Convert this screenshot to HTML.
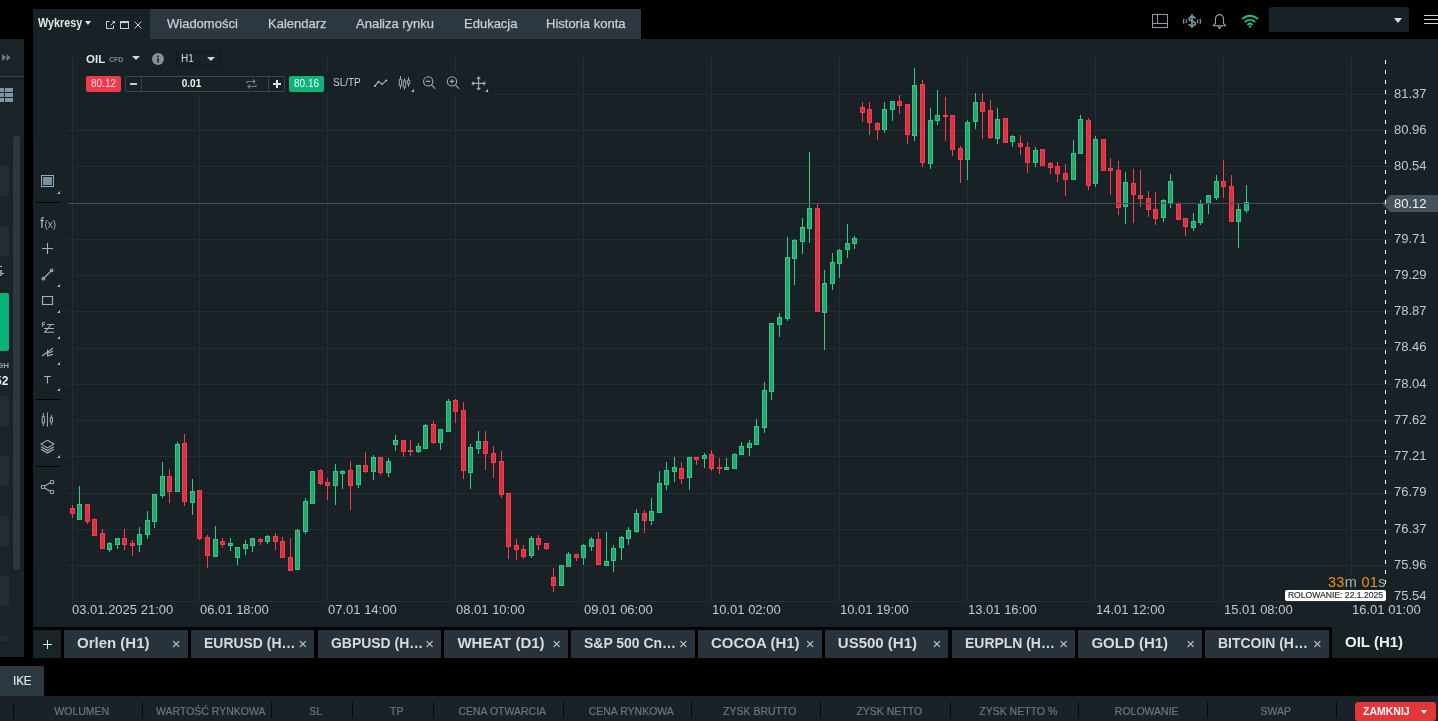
<!DOCTYPE html>
<html lang="pl">
<head>
<meta charset="utf-8">
<title>xStation - Wykresy</title>
<style>
*{box-sizing:border-box;margin:0;padding:0}
html,body{width:1438px;height:721px;overflow:hidden;background:#000}
body{position:relative;font-family:"Liberation Sans",sans-serif;color:#d0d4d8}
.abs{position:absolute}
/* left side panel */
#lp{left:0;top:39px;width:24px;height:618px;background:#1a2328}
.lpbox{position:absolute;left:0;width:9px;background:#242b32}
/* chart window */
#cw{left:33px;top:39px;width:1405px;height:588px;background:#182126}
#hdr{left:33px;top:9px;width:117px;height:30px;background:#182126}
#tabs{left:150px;top:9px;width:491px;height:30px;background:#2c3740}
.tt{position:absolute;top:16px;font-size:13px;color:#c9ced2;-webkit-text-stroke:0.25px #c9ced2;white-space:nowrap}
#topblack{left:640px;top:0;width:798px;height:39px;background:#000}
/* price + date labels */
.pl{position:absolute;left:1394px;font-size:13px;color:#c3c8cc;line-height:16px;white-space:nowrap}
.dl{position:absolute;top:602px;font-size:13px;color:#c3c8cc;line-height:16px;white-space:nowrap}
/* bottom tabs */
.btab{position:absolute;top:630px;width:123.5px;height:28px;background:#28323a}
.bt{position:absolute;left:13px;top:3.5px;font-size:15px;font-weight:bold;color:#d6dadd;white-space:nowrap;line-height:17px}
.bt.tr{transform:scaleX(0.93);transform-origin:0 0}
.bx{position:absolute;right:7px;top:6px;font-size:15px;color:#c0c6ca;line-height:15px}
/* bottom bar */
#bar{left:0;top:696px;width:1438px;height:25px;background:#1a2227}
.bc{position:absolute;top:10px;padding-left:8.5px;font-size:10.5px;color:#6a7680;-webkit-text-stroke:0.2px #6a7680;text-align:center;line-height:11px;white-space:nowrap}
.bd{position:absolute;top:6px;width:1px;height:16px;background:#050708}
.ico{position:absolute}
.tri{position:absolute;width:0;height:0;border-left:3px solid transparent;border-bottom:3px solid #aab4ba}
</style>
</head>
<body>
<!-- left side panel -->
<div id="lp" class="abs">
  <svg class="ico" style="left:2px;top:15px" width="9" height="7" viewBox="0 0 9 7"><path d="M0 0 L4 3.5 L0 7Z M4.5 0 L8.5 3.5 L4.5 7Z" fill="#6f7d86"/></svg>
  <div class="abs" style="left:0;top:37px;width:24px;height:1px;background:#36424a"></div>
  <svg class="ico" style="left:0;top:49px" width="14" height="15" viewBox="0 0 14 15"><g fill="#7e96a4"><rect x="0" y="0" width="4" height="4"/><rect x="5" y="0" width="8" height="4"/><rect x="0" y="5" width="4" height="4"/><rect x="5" y="5" width="8" height="4"/><rect x="0" y="10" width="4" height="4"/><rect x="5" y="10" width="8" height="4"/></g></svg>
  <div class="abs" style="left:13px;top:97px;width:7px;height:434px;background:#2d3840;border-radius:4px"></div>
  <div class="lpbox" style="top:127px;height:30px"></div>
  <div class="lpbox" style="top:187px;height:30px"></div>
  <div class="abs" style="left:0;top:227px;width:2px;height:1px;background:#b8bec2"></div>
  <div class="abs" style="left:0;top:234px;width:4px;height:1.2px;background:#b8bec2"></div><div class="abs" style="left:0;top:231px;width:1.5px;height:6px;background:#8a9095"></div>
  <div class="abs" style="left:0;top:254px;width:9px;height:58px;background:#0bb27a;border-top-right-radius:2px;border-bottom-right-radius:2px"></div>
  <div class="abs" style="left:-3px;top:322px;font-size:8px;font-weight:bold;color:#98a2a8">GH</div>
  <div class="abs" style="left:-5px;top:335px;font-size:12px;font-weight:bold;color:#e8ebed">52</div>
  <div class="lpbox" style="top:357px;height:30px"></div>
  <div class="lpbox" style="top:417px;height:30px"></div>
  <div class="lpbox" style="top:477px;height:30px"></div>
  <div class="lpbox" style="top:537px;height:30px"></div>
  <div class="lpbox" style="top:597px;height:5px"></div>
</div>

<!-- chart window -->
<div id="cw" class="abs"></div>
<div id="hdr" class="abs"></div>
<div id="tabs" class="abs"></div>
<div class="abs" style="left:38px;top:15px;font-size:13px;font-weight:bold;color:#e4e7e9;transform:scaleX(0.83);transform-origin:0 0">Wykresy</div>
<div class="abs" style="left:85px;top:21px;width:0;height:0;border-left:3.5px solid transparent;border-right:3.5px solid transparent;border-top:4px solid #e0e3e5"></div>
<svg class="ico" style="left:105px;top:20px" width="40" height="11" viewBox="105 20 40 11">
  <g fill="none" stroke="#c9ced1" stroke-width="1">
    <path d="M109.5 21.5 h-3 v7 h7 v-3"/><path d="M110.5 25.5 l4-4 M112.5 21.5 h2 v2"/>
    <rect x="120.5" y="21.5" width="8" height="7"/>
    <path d="M134.5 21.5 l7 7 M141.5 21.5 l-7 7"/>
  </g>
  <rect x="120.5" y="21.5" width="8" height="1.6" fill="#c9ced1"/>
</svg>
<div class="tt" style="left:167px">Wiadomości</div>
<div class="tt" style="left:268px">Kalendarz</div>
<div class="tt" style="left:356px">Analiza rynku</div>
<div class="tt" style="left:464px">Edukacja</div>
<div class="tt" style="left:546px">Historia konta</div>

<!-- top-right icons -->
<svg class="ico" style="left:1150px;top:12px" width="112" height="20" viewBox="1150 12 112 20">
  <g fill="none" stroke="#8d9ba3" stroke-width="1">
    <rect x="1152.5" y="14.5" width="15" height="13"/>
    <line x1="1157.5" y1="14.5" x2="1157.5" y2="23.5"/>
    <line x1="1152.5" y1="23.5" x2="1167.5" y2="23.5"/>
  </g>
  <g fill="none" stroke="#7d94a0" stroke-width="1.7">
    <path d="M1192 14 V28"/>
    <path d="M1195.3 18.4 C1194.6 16.4 1189.1 16 1189.1 18.9 C1189.1 21.4 1195.4 20.6 1195.4 23.4 C1195.4 26.4 1189.4 26.1 1188.7 24.1"/>
  </g>
  <g fill="none" stroke="#7d94a0" stroke-width="1.4">
    <path d="M1184 18.8 q-1.3 2.5 0 5"/><path d="M1186.7 19.5 q-0.8 1.75 0 3.5"/>
    <path d="M1197.3 19.5 q0.8 1.75 0 3.5"/><path d="M1200 18.8 q1.3 2.5 0 5"/>
  </g>
  <g fill="none" stroke="#9aa6ad" stroke-width="1.1" stroke-linejoin="round">
    <path d="M1215.5 23.3 V19 A4 4.4 0 0 1 1223.5 19 V23.3 L1225.8 25.8 H1213.2 Z"/>
    <path d="M1217.6 25.8 L1219.5 28.6 L1221.4 25.8"/>
  </g>
  <g fill="none" stroke="#1fc585" stroke-width="1.9" stroke-linecap="round">
    <path d="M1242.6 18.6 a11 11 0 0 1 14.8 0"/>
    <path d="M1245.4 21.6 a7 7 0 0 1 9.2 0"/>
    <path d="M1248 24.4 a3.2 3.2 0 0 1 4 0"/>
  </g>
  <circle cx="1250" cy="26.6" r="1.2" fill="#1fc585"/>
</svg>
<div class="abs" style="left:1269px;top:7px;width:140px;height:25px;background:#182127;border-radius:3px 3px 0 0"></div>
<div class="abs" style="left:1394px;top:18px;width:0;height:0;border-left:4px solid transparent;border-right:4px solid transparent;border-top:5px solid #d8dcdf"></div>
<div class="abs" style="left:1424px;top:15px;width:14px;height:1.3px;background:#d0d4d7"></div>
<div class="abs" style="left:1424px;top:18.8px;width:14px;height:1.3px;background:#d0d4d7"></div>
<div class="abs" style="left:1424px;top:22.8px;width:14px;height:1.3px;background:#d0d4d7"></div>


<!-- chart drawing -->
<svg class="abs" style="left:0;top:0" width="1438" height="721" viewBox="0 0 1438 721">
<rect x="72" y="58" width="1" height="546" fill="#252e35"/>
<rect x="199" y="58" width="1" height="546" fill="#252e35"/>
<rect x="327" y="58" width="1" height="546" fill="#252e35"/>
<rect x="455" y="58" width="1" height="546" fill="#252e35"/>
<rect x="583" y="58" width="1" height="546" fill="#252e35"/>
<rect x="711" y="58" width="1" height="546" fill="#252e35"/>
<rect x="839" y="58" width="1" height="546" fill="#252e35"/>
<rect x="967" y="58" width="1" height="546" fill="#252e35"/>
<rect x="1095" y="58" width="1" height="546" fill="#252e35"/>
<rect x="1223" y="58" width="1" height="546" fill="#252e35"/>
<rect x="1351" y="58" width="1" height="546" fill="#252e35"/>
<rect x="68" y="94" width="1324" height="1" fill="#252e35"/>
<rect x="68" y="130" width="1324" height="1" fill="#252e35"/>
<rect x="68" y="166" width="1324" height="1" fill="#252e35"/>
<rect x="68" y="203" width="1324" height="1" fill="#252e35"/>
<rect x="68" y="239" width="1324" height="1" fill="#252e35"/>
<rect x="68" y="275" width="1324" height="1" fill="#252e35"/>
<rect x="68" y="311" width="1324" height="1" fill="#252e35"/>
<rect x="68" y="348" width="1324" height="1" fill="#252e35"/>
<rect x="68" y="384" width="1324" height="1" fill="#252e35"/>
<rect x="68" y="420" width="1324" height="1" fill="#252e35"/>
<rect x="68" y="456" width="1324" height="1" fill="#252e35"/>
<rect x="68" y="493" width="1324" height="1" fill="#252e35"/>
<rect x="68" y="529" width="1324" height="1" fill="#252e35"/>
<rect x="68" y="565" width="1324" height="1" fill="#252e35"/>
<rect x="68" y="601" width="1324" height="1" fill="#252e35"/>
<rect x="72" y="505" width="1" height="13" fill="#fb3a4c"/>
<rect x="70" y="508" width="5" height="6" fill="#fb3a4c"/>
<rect x="71" y="509" width="3" height="4" fill="#d53344"/>
<rect x="79" y="486" width="1" height="34" fill="#2cc987"/>
<rect x="77" y="504" width="5" height="16" fill="#2cc987"/>
<rect x="78" y="505" width="3" height="14" fill="#26a56f"/>
<rect x="87" y="504" width="1" height="20" fill="#fb3a4c"/>
<rect x="85" y="504" width="5" height="18" fill="#fb3a4c"/>
<rect x="86" y="505" width="3" height="16" fill="#d53344"/>
<rect x="94" y="518" width="1" height="18" fill="#fb3a4c"/>
<rect x="92" y="519" width="5" height="17" fill="#fb3a4c"/>
<rect x="93" y="520" width="3" height="15" fill="#d53344"/>
<rect x="102" y="529" width="1" height="20" fill="#fb3a4c"/>
<rect x="100" y="533" width="5" height="16" fill="#fb3a4c"/>
<rect x="101" y="534" width="3" height="14" fill="#d53344"/>
<rect x="109" y="542" width="1" height="10" fill="#2cc987"/>
<rect x="107" y="543" width="5" height="7" fill="#2cc987"/>
<rect x="108" y="544" width="3" height="5" fill="#26a56f"/>
<rect x="117" y="538" width="1" height="11" fill="#2cc987"/>
<rect x="115" y="538" width="5" height="7" fill="#2cc987"/>
<rect x="116" y="539" width="3" height="5" fill="#26a56f"/>
<rect x="124" y="529" width="1" height="21" fill="#fb3a4c"/>
<rect x="122" y="538" width="5" height="7" fill="#fb3a4c"/>
<rect x="123" y="539" width="3" height="5" fill="#d53344"/>
<rect x="132" y="540" width="1" height="16" fill="#fb3a4c"/>
<rect x="130" y="543" width="5" height="3" fill="#fb3a4c"/>
<rect x="131" y="544" width="3" height="1" fill="#d53344"/>
<rect x="139" y="527" width="1" height="25" fill="#2cc987"/>
<rect x="137" y="534" width="5" height="11" fill="#2cc987"/>
<rect x="138" y="535" width="3" height="9" fill="#26a56f"/>
<rect x="147" y="511" width="1" height="28" fill="#2cc987"/>
<rect x="145" y="520" width="5" height="15" fill="#2cc987"/>
<rect x="146" y="521" width="3" height="13" fill="#26a56f"/>
<rect x="154" y="494" width="1" height="34" fill="#2cc987"/>
<rect x="152" y="494" width="5" height="28" fill="#2cc987"/>
<rect x="153" y="495" width="3" height="26" fill="#26a56f"/>
<rect x="162" y="462" width="1" height="36" fill="#2cc987"/>
<rect x="160" y="476" width="5" height="20" fill="#2cc987"/>
<rect x="161" y="477" width="3" height="18" fill="#26a56f"/>
<rect x="169" y="469" width="1" height="34" fill="#fb3a4c"/>
<rect x="167" y="476" width="5" height="16" fill="#fb3a4c"/>
<rect x="168" y="477" width="3" height="14" fill="#d53344"/>
<rect x="177" y="442" width="1" height="50" fill="#2cc987"/>
<rect x="175" y="444" width="5" height="48" fill="#2cc987"/>
<rect x="176" y="445" width="3" height="46" fill="#26a56f"/>
<rect x="184" y="434" width="1" height="72" fill="#fb3a4c"/>
<rect x="182" y="443" width="5" height="59" fill="#fb3a4c"/>
<rect x="183" y="444" width="3" height="57" fill="#d53344"/>
<rect x="192" y="479" width="1" height="36" fill="#2cc987"/>
<rect x="190" y="491" width="5" height="12" fill="#2cc987"/>
<rect x="191" y="492" width="3" height="10" fill="#26a56f"/>
<rect x="199" y="490" width="1" height="50" fill="#fb3a4c"/>
<rect x="197" y="490" width="5" height="49" fill="#fb3a4c"/>
<rect x="198" y="491" width="3" height="47" fill="#d53344"/>
<rect x="207" y="535" width="1" height="33" fill="#fb3a4c"/>
<rect x="205" y="537" width="5" height="19" fill="#fb3a4c"/>
<rect x="206" y="538" width="3" height="17" fill="#d53344"/>
<rect x="215" y="526" width="1" height="31" fill="#2cc987"/>
<rect x="213" y="539" width="5" height="18" fill="#2cc987"/>
<rect x="214" y="540" width="3" height="16" fill="#26a56f"/>
<rect x="222" y="538" width="1" height="10" fill="#fb3a4c"/>
<rect x="220" y="541" width="5" height="4" fill="#fb3a4c"/>
<rect x="221" y="542" width="3" height="2" fill="#d53344"/>
<rect x="230" y="538" width="1" height="13" fill="#2cc987"/>
<rect x="228" y="543" width="5" height="3" fill="#2cc987"/>
<rect x="229" y="544" width="3" height="1" fill="#26a56f"/>
<rect x="237" y="547" width="1" height="18" fill="#2cc987"/>
<rect x="235" y="547" width="5" height="11" fill="#2cc987"/>
<rect x="236" y="548" width="3" height="9" fill="#26a56f"/>
<rect x="245" y="540" width="1" height="15" fill="#2cc987"/>
<rect x="243" y="544" width="5" height="5" fill="#2cc987"/>
<rect x="244" y="545" width="3" height="3" fill="#26a56f"/>
<rect x="252" y="538" width="1" height="14" fill="#2cc987"/>
<rect x="250" y="538" width="5" height="8" fill="#2cc987"/>
<rect x="251" y="539" width="3" height="6" fill="#26a56f"/>
<rect x="260" y="538" width="1" height="7" fill="#fb3a4c"/>
<rect x="258" y="539" width="5" height="3" fill="#fb3a4c"/>
<rect x="259" y="540" width="3" height="1" fill="#d53344"/>
<rect x="267" y="535" width="1" height="9" fill="#2cc987"/>
<rect x="265" y="536" width="5" height="6" fill="#2cc987"/>
<rect x="266" y="537" width="3" height="4" fill="#26a56f"/>
<rect x="275" y="533" width="1" height="17" fill="#fb3a4c"/>
<rect x="273" y="536" width="5" height="6" fill="#fb3a4c"/>
<rect x="274" y="537" width="3" height="4" fill="#d53344"/>
<rect x="282" y="537" width="1" height="21" fill="#fb3a4c"/>
<rect x="280" y="541" width="5" height="17" fill="#fb3a4c"/>
<rect x="281" y="542" width="3" height="15" fill="#d53344"/>
<rect x="290" y="538" width="1" height="33" fill="#fb3a4c"/>
<rect x="288" y="557" width="5" height="14" fill="#fb3a4c"/>
<rect x="289" y="558" width="3" height="12" fill="#d53344"/>
<rect x="297" y="529" width="1" height="41" fill="#2cc987"/>
<rect x="295" y="530" width="5" height="40" fill="#2cc987"/>
<rect x="296" y="531" width="3" height="38" fill="#26a56f"/>
<rect x="305" y="498" width="1" height="36" fill="#2cc987"/>
<rect x="303" y="501" width="5" height="31" fill="#2cc987"/>
<rect x="304" y="502" width="3" height="29" fill="#26a56f"/>
<rect x="312" y="471" width="1" height="33" fill="#2cc987"/>
<rect x="310" y="471" width="5" height="33" fill="#2cc987"/>
<rect x="311" y="472" width="3" height="31" fill="#26a56f"/>
<rect x="320" y="469" width="1" height="16" fill="#fb3a4c"/>
<rect x="318" y="470" width="5" height="14" fill="#fb3a4c"/>
<rect x="319" y="471" width="3" height="12" fill="#d53344"/>
<rect x="327" y="478" width="1" height="22" fill="#fb3a4c"/>
<rect x="325" y="482" width="5" height="4" fill="#fb3a4c"/>
<rect x="326" y="483" width="3" height="2" fill="#d53344"/>
<rect x="335" y="464" width="1" height="41" fill="#2cc987"/>
<rect x="333" y="471" width="5" height="15" fill="#2cc987"/>
<rect x="334" y="472" width="3" height="13" fill="#26a56f"/>
<rect x="342" y="470" width="1" height="19" fill="#2cc987"/>
<rect x="340" y="471" width="5" height="3" fill="#2cc987"/>
<rect x="341" y="472" width="3" height="1" fill="#26a56f"/>
<rect x="350" y="461" width="1" height="49" fill="#fb3a4c"/>
<rect x="348" y="470" width="5" height="16" fill="#fb3a4c"/>
<rect x="349" y="471" width="3" height="14" fill="#d53344"/>
<rect x="358" y="465" width="1" height="23" fill="#2cc987"/>
<rect x="356" y="465" width="5" height="20" fill="#2cc987"/>
<rect x="357" y="466" width="3" height="18" fill="#26a56f"/>
<rect x="365" y="452" width="1" height="21" fill="#fb3a4c"/>
<rect x="363" y="465" width="5" height="7" fill="#fb3a4c"/>
<rect x="364" y="466" width="3" height="5" fill="#d53344"/>
<rect x="373" y="455" width="1" height="25" fill="#2cc987"/>
<rect x="371" y="457" width="5" height="15" fill="#2cc987"/>
<rect x="372" y="458" width="3" height="13" fill="#26a56f"/>
<rect x="380" y="457" width="1" height="18" fill="#fb3a4c"/>
<rect x="378" y="457" width="5" height="16" fill="#fb3a4c"/>
<rect x="379" y="458" width="3" height="14" fill="#d53344"/>
<rect x="388" y="458" width="1" height="19" fill="#2cc987"/>
<rect x="386" y="461" width="5" height="12" fill="#2cc987"/>
<rect x="387" y="462" width="3" height="10" fill="#26a56f"/>
<rect x="395" y="435" width="1" height="16" fill="#2cc987"/>
<rect x="393" y="440" width="5" height="5" fill="#2cc987"/>
<rect x="394" y="441" width="3" height="3" fill="#26a56f"/>
<rect x="403" y="440" width="1" height="17" fill="#fb3a4c"/>
<rect x="401" y="440" width="5" height="12" fill="#fb3a4c"/>
<rect x="402" y="441" width="3" height="10" fill="#d53344"/>
<rect x="410" y="440" width="1" height="16" fill="#fb3a4c"/>
<rect x="408" y="450" width="5" height="2" fill="#fb3a4c"/>
<rect x="418" y="443" width="1" height="10" fill="#2cc987"/>
<rect x="416" y="446" width="5" height="6" fill="#2cc987"/>
<rect x="417" y="447" width="3" height="4" fill="#26a56f"/>
<rect x="425" y="424" width="1" height="25" fill="#2cc987"/>
<rect x="423" y="425" width="5" height="24" fill="#2cc987"/>
<rect x="424" y="426" width="3" height="22" fill="#26a56f"/>
<rect x="433" y="421" width="1" height="23" fill="#fb3a4c"/>
<rect x="431" y="424" width="5" height="19" fill="#fb3a4c"/>
<rect x="432" y="425" width="3" height="17" fill="#d53344"/>
<rect x="440" y="429" width="1" height="21" fill="#2cc987"/>
<rect x="438" y="429" width="5" height="14" fill="#2cc987"/>
<rect x="439" y="430" width="3" height="12" fill="#26a56f"/>
<rect x="448" y="399" width="1" height="33" fill="#2cc987"/>
<rect x="446" y="401" width="5" height="31" fill="#2cc987"/>
<rect x="447" y="402" width="3" height="29" fill="#26a56f"/>
<rect x="455" y="399" width="1" height="24" fill="#fb3a4c"/>
<rect x="453" y="400" width="5" height="12" fill="#fb3a4c"/>
<rect x="454" y="401" width="3" height="10" fill="#d53344"/>
<rect x="463" y="402" width="1" height="77" fill="#fb3a4c"/>
<rect x="461" y="410" width="5" height="61" fill="#fb3a4c"/>
<rect x="462" y="411" width="3" height="59" fill="#d53344"/>
<rect x="470" y="444" width="1" height="45" fill="#2cc987"/>
<rect x="468" y="447" width="5" height="26" fill="#2cc987"/>
<rect x="469" y="448" width="3" height="24" fill="#26a56f"/>
<rect x="478" y="431" width="1" height="23" fill="#2cc987"/>
<rect x="476" y="441" width="5" height="8" fill="#2cc987"/>
<rect x="477" y="442" width="3" height="6" fill="#26a56f"/>
<rect x="485" y="431" width="1" height="39" fill="#fb3a4c"/>
<rect x="483" y="441" width="5" height="13" fill="#fb3a4c"/>
<rect x="484" y="442" width="3" height="11" fill="#d53344"/>
<rect x="493" y="446" width="1" height="32" fill="#fb3a4c"/>
<rect x="491" y="453" width="5" height="10" fill="#fb3a4c"/>
<rect x="492" y="454" width="3" height="8" fill="#d53344"/>
<rect x="501" y="451" width="1" height="47" fill="#fb3a4c"/>
<rect x="499" y="461" width="5" height="34" fill="#fb3a4c"/>
<rect x="500" y="462" width="3" height="32" fill="#d53344"/>
<rect x="508" y="493" width="1" height="66" fill="#fb3a4c"/>
<rect x="506" y="493" width="5" height="54" fill="#fb3a4c"/>
<rect x="507" y="494" width="3" height="52" fill="#d53344"/>
<rect x="516" y="539" width="1" height="21" fill="#fb3a4c"/>
<rect x="514" y="545" width="5" height="5" fill="#fb3a4c"/>
<rect x="515" y="546" width="3" height="3" fill="#d53344"/>
<rect x="523" y="545" width="1" height="14" fill="#fb3a4c"/>
<rect x="521" y="549" width="5" height="8" fill="#fb3a4c"/>
<rect x="522" y="550" width="3" height="6" fill="#d53344"/>
<rect x="531" y="536" width="1" height="22" fill="#2cc987"/>
<rect x="529" y="538" width="5" height="18" fill="#2cc987"/>
<rect x="530" y="539" width="3" height="16" fill="#26a56f"/>
<rect x="538" y="535" width="1" height="15" fill="#fb3a4c"/>
<rect x="536" y="538" width="5" height="7" fill="#fb3a4c"/>
<rect x="537" y="539" width="3" height="5" fill="#d53344"/>
<rect x="546" y="543" width="1" height="7" fill="#fb3a4c"/>
<rect x="544" y="543" width="5" height="6" fill="#fb3a4c"/>
<rect x="545" y="544" width="3" height="4" fill="#d53344"/>
<rect x="553" y="568" width="1" height="24" fill="#fb3a4c"/>
<rect x="551" y="577" width="5" height="9" fill="#fb3a4c"/>
<rect x="552" y="578" width="3" height="7" fill="#d53344"/>
<rect x="561" y="565" width="1" height="21" fill="#2cc987"/>
<rect x="559" y="565" width="5" height="21" fill="#2cc987"/>
<rect x="560" y="566" width="3" height="19" fill="#26a56f"/>
<rect x="568" y="552" width="1" height="15" fill="#2cc987"/>
<rect x="566" y="554" width="5" height="13" fill="#2cc987"/>
<rect x="567" y="555" width="3" height="11" fill="#26a56f"/>
<rect x="576" y="554" width="1" height="7" fill="#fb3a4c"/>
<rect x="574" y="554" width="5" height="4" fill="#fb3a4c"/>
<rect x="575" y="555" width="3" height="2" fill="#d53344"/>
<rect x="583" y="544" width="1" height="21" fill="#2cc987"/>
<rect x="581" y="545" width="5" height="13" fill="#2cc987"/>
<rect x="582" y="546" width="3" height="11" fill="#26a56f"/>
<rect x="591" y="537" width="1" height="14" fill="#2cc987"/>
<rect x="589" y="539" width="5" height="8" fill="#2cc987"/>
<rect x="590" y="540" width="3" height="6" fill="#26a56f"/>
<rect x="598" y="532" width="1" height="33" fill="#fb3a4c"/>
<rect x="596" y="539" width="5" height="26" fill="#fb3a4c"/>
<rect x="597" y="540" width="3" height="24" fill="#d53344"/>
<rect x="606" y="532" width="1" height="34" fill="#2cc987"/>
<rect x="604" y="561" width="5" height="5" fill="#2cc987"/>
<rect x="605" y="562" width="3" height="3" fill="#26a56f"/>
<rect x="613" y="545" width="1" height="27" fill="#2cc987"/>
<rect x="611" y="548" width="5" height="13" fill="#2cc987"/>
<rect x="612" y="549" width="3" height="11" fill="#26a56f"/>
<rect x="621" y="536" width="1" height="24" fill="#2cc987"/>
<rect x="619" y="537" width="5" height="11" fill="#2cc987"/>
<rect x="620" y="538" width="3" height="9" fill="#26a56f"/>
<rect x="628" y="527" width="1" height="18" fill="#2cc987"/>
<rect x="626" y="530" width="5" height="9" fill="#2cc987"/>
<rect x="627" y="531" width="3" height="7" fill="#26a56f"/>
<rect x="636" y="509" width="1" height="24" fill="#2cc987"/>
<rect x="634" y="513" width="5" height="19" fill="#2cc987"/>
<rect x="635" y="514" width="3" height="17" fill="#26a56f"/>
<rect x="644" y="510" width="1" height="23" fill="#fb3a4c"/>
<rect x="642" y="513" width="5" height="8" fill="#fb3a4c"/>
<rect x="643" y="514" width="3" height="6" fill="#d53344"/>
<rect x="651" y="498" width="1" height="27" fill="#2cc987"/>
<rect x="649" y="511" width="5" height="10" fill="#2cc987"/>
<rect x="650" y="512" width="3" height="8" fill="#26a56f"/>
<rect x="659" y="471" width="1" height="42" fill="#2cc987"/>
<rect x="657" y="483" width="5" height="30" fill="#2cc987"/>
<rect x="658" y="484" width="3" height="28" fill="#26a56f"/>
<rect x="666" y="462" width="1" height="28" fill="#2cc987"/>
<rect x="664" y="470" width="5" height="15" fill="#2cc987"/>
<rect x="665" y="471" width="3" height="13" fill="#26a56f"/>
<rect x="674" y="457" width="1" height="25" fill="#2cc987"/>
<rect x="672" y="467" width="5" height="5" fill="#2cc987"/>
<rect x="673" y="468" width="3" height="3" fill="#26a56f"/>
<rect x="681" y="462" width="1" height="22" fill="#fb3a4c"/>
<rect x="679" y="468" width="5" height="11" fill="#fb3a4c"/>
<rect x="680" y="469" width="3" height="9" fill="#d53344"/>
<rect x="689" y="457" width="1" height="33" fill="#2cc987"/>
<rect x="687" y="457" width="5" height="21" fill="#2cc987"/>
<rect x="688" y="458" width="3" height="19" fill="#26a56f"/>
<rect x="696" y="457" width="1" height="8" fill="#fb3a4c"/>
<rect x="694" y="457" width="5" height="3" fill="#fb3a4c"/>
<rect x="695" y="458" width="3" height="1" fill="#d53344"/>
<rect x="704" y="453" width="1" height="15" fill="#2cc987"/>
<rect x="702" y="455" width="5" height="4" fill="#2cc987"/>
<rect x="703" y="456" width="3" height="2" fill="#26a56f"/>
<rect x="711" y="450" width="1" height="21" fill="#fb3a4c"/>
<rect x="709" y="454" width="5" height="15" fill="#fb3a4c"/>
<rect x="710" y="455" width="3" height="13" fill="#d53344"/>
<rect x="719" y="458" width="1" height="16" fill="#fb3a4c"/>
<rect x="717" y="467" width="5" height="2" fill="#fb3a4c"/>
<rect x="726" y="458" width="1" height="12" fill="#2cc987"/>
<rect x="724" y="467" width="5" height="3" fill="#2cc987"/>
<rect x="725" y="468" width="3" height="1" fill="#26a56f"/>
<rect x="734" y="453" width="1" height="16" fill="#2cc987"/>
<rect x="732" y="454" width="5" height="15" fill="#2cc987"/>
<rect x="733" y="455" width="3" height="13" fill="#26a56f"/>
<rect x="741" y="442" width="1" height="13" fill="#2cc987"/>
<rect x="739" y="446" width="5" height="9" fill="#2cc987"/>
<rect x="740" y="447" width="3" height="7" fill="#26a56f"/>
<rect x="749" y="440" width="1" height="16" fill="#2cc987"/>
<rect x="747" y="443" width="5" height="5" fill="#2cc987"/>
<rect x="748" y="444" width="3" height="3" fill="#26a56f"/>
<rect x="756" y="419" width="1" height="26" fill="#2cc987"/>
<rect x="754" y="426" width="5" height="19" fill="#2cc987"/>
<rect x="755" y="427" width="3" height="17" fill="#26a56f"/>
<rect x="764" y="382" width="1" height="51" fill="#2cc987"/>
<rect x="762" y="390" width="5" height="38" fill="#2cc987"/>
<rect x="763" y="391" width="3" height="36" fill="#26a56f"/>
<rect x="771" y="323" width="1" height="77" fill="#2cc987"/>
<rect x="769" y="323" width="5" height="69" fill="#2cc987"/>
<rect x="770" y="324" width="3" height="67" fill="#26a56f"/>
<rect x="779" y="313" width="1" height="24" fill="#2cc987"/>
<rect x="777" y="317" width="5" height="8" fill="#2cc987"/>
<rect x="778" y="318" width="3" height="6" fill="#26a56f"/>
<rect x="787" y="237" width="1" height="84" fill="#2cc987"/>
<rect x="785" y="257" width="5" height="62" fill="#2cc987"/>
<rect x="786" y="258" width="3" height="60" fill="#26a56f"/>
<rect x="794" y="239" width="1" height="46" fill="#2cc987"/>
<rect x="792" y="240" width="5" height="19" fill="#2cc987"/>
<rect x="793" y="241" width="3" height="17" fill="#26a56f"/>
<rect x="802" y="218" width="1" height="36" fill="#2cc987"/>
<rect x="800" y="227" width="5" height="15" fill="#2cc987"/>
<rect x="801" y="228" width="3" height="13" fill="#26a56f"/>
<rect x="809" y="152" width="1" height="91" fill="#2cc987"/>
<rect x="807" y="208" width="5" height="21" fill="#2cc987"/>
<rect x="808" y="209" width="3" height="19" fill="#26a56f"/>
<rect x="817" y="204" width="1" height="108" fill="#fb3a4c"/>
<rect x="815" y="208" width="5" height="104" fill="#fb3a4c"/>
<rect x="816" y="209" width="3" height="102" fill="#d53344"/>
<rect x="824" y="270" width="1" height="80" fill="#2cc987"/>
<rect x="822" y="283" width="5" height="30" fill="#2cc987"/>
<rect x="823" y="284" width="3" height="28" fill="#26a56f"/>
<rect x="832" y="253" width="1" height="37" fill="#2cc987"/>
<rect x="830" y="262" width="5" height="22" fill="#2cc987"/>
<rect x="831" y="263" width="3" height="20" fill="#26a56f"/>
<rect x="839" y="249" width="1" height="29" fill="#2cc987"/>
<rect x="837" y="250" width="5" height="14" fill="#2cc987"/>
<rect x="838" y="251" width="3" height="12" fill="#26a56f"/>
<rect x="847" y="224" width="1" height="34" fill="#2cc987"/>
<rect x="845" y="243" width="5" height="7" fill="#2cc987"/>
<rect x="846" y="244" width="3" height="5" fill="#26a56f"/>
<rect x="854" y="236" width="1" height="13" fill="#2cc987"/>
<rect x="852" y="238" width="5" height="6" fill="#2cc987"/>
<rect x="853" y="239" width="3" height="4" fill="#26a56f"/>
<rect x="862" y="102" width="1" height="20" fill="#fb3a4c"/>
<rect x="860" y="107" width="5" height="6" fill="#fb3a4c"/>
<rect x="861" y="108" width="3" height="4" fill="#d53344"/>
<rect x="869" y="102" width="1" height="33" fill="#fb3a4c"/>
<rect x="867" y="109" width="5" height="14" fill="#fb3a4c"/>
<rect x="868" y="110" width="3" height="12" fill="#d53344"/>
<rect x="877" y="122" width="1" height="18" fill="#fb3a4c"/>
<rect x="875" y="123" width="5" height="7" fill="#fb3a4c"/>
<rect x="876" y="124" width="3" height="5" fill="#d53344"/>
<rect x="884" y="102" width="1" height="31" fill="#2cc987"/>
<rect x="882" y="109" width="5" height="21" fill="#2cc987"/>
<rect x="883" y="110" width="3" height="19" fill="#26a56f"/>
<rect x="892" y="101" width="1" height="20" fill="#2cc987"/>
<rect x="890" y="101" width="5" height="9" fill="#2cc987"/>
<rect x="891" y="102" width="3" height="7" fill="#26a56f"/>
<rect x="899" y="95" width="1" height="19" fill="#fb3a4c"/>
<rect x="897" y="101" width="5" height="5" fill="#fb3a4c"/>
<rect x="898" y="102" width="3" height="3" fill="#d53344"/>
<rect x="907" y="104" width="1" height="40" fill="#fb3a4c"/>
<rect x="905" y="104" width="5" height="31" fill="#fb3a4c"/>
<rect x="906" y="105" width="3" height="29" fill="#d53344"/>
<rect x="914" y="68" width="1" height="73" fill="#2cc987"/>
<rect x="912" y="85" width="5" height="51" fill="#2cc987"/>
<rect x="913" y="86" width="3" height="49" fill="#26a56f"/>
<rect x="922" y="80" width="1" height="87" fill="#fb3a4c"/>
<rect x="920" y="84" width="5" height="79" fill="#fb3a4c"/>
<rect x="921" y="85" width="3" height="77" fill="#d53344"/>
<rect x="930" y="108" width="1" height="61" fill="#2cc987"/>
<rect x="928" y="120" width="5" height="44" fill="#2cc987"/>
<rect x="929" y="121" width="3" height="42" fill="#26a56f"/>
<rect x="937" y="90" width="1" height="35" fill="#2cc987"/>
<rect x="935" y="115" width="5" height="6" fill="#2cc987"/>
<rect x="936" y="116" width="3" height="4" fill="#26a56f"/>
<rect x="945" y="97" width="1" height="44" fill="#fb3a4c"/>
<rect x="943" y="115" width="5" height="2" fill="#fb3a4c"/>
<rect x="952" y="115" width="1" height="41" fill="#fb3a4c"/>
<rect x="950" y="115" width="5" height="35" fill="#fb3a4c"/>
<rect x="951" y="116" width="3" height="33" fill="#d53344"/>
<rect x="960" y="146" width="1" height="37" fill="#fb3a4c"/>
<rect x="958" y="148" width="5" height="12" fill="#fb3a4c"/>
<rect x="959" y="149" width="3" height="10" fill="#d53344"/>
<rect x="967" y="120" width="1" height="60" fill="#2cc987"/>
<rect x="965" y="122" width="5" height="38" fill="#2cc987"/>
<rect x="966" y="123" width="3" height="36" fill="#26a56f"/>
<rect x="975" y="93" width="1" height="36" fill="#2cc987"/>
<rect x="973" y="102" width="5" height="20" fill="#2cc987"/>
<rect x="974" y="103" width="3" height="18" fill="#26a56f"/>
<rect x="982" y="93" width="1" height="46" fill="#fb3a4c"/>
<rect x="980" y="102" width="5" height="10" fill="#fb3a4c"/>
<rect x="981" y="103" width="3" height="8" fill="#d53344"/>
<rect x="990" y="100" width="1" height="39" fill="#fb3a4c"/>
<rect x="988" y="110" width="5" height="28" fill="#fb3a4c"/>
<rect x="989" y="111" width="3" height="26" fill="#d53344"/>
<rect x="997" y="108" width="1" height="36" fill="#2cc987"/>
<rect x="995" y="119" width="5" height="20" fill="#2cc987"/>
<rect x="996" y="120" width="3" height="18" fill="#26a56f"/>
<rect x="1005" y="118" width="1" height="25" fill="#fb3a4c"/>
<rect x="1003" y="118" width="5" height="25" fill="#fb3a4c"/>
<rect x="1004" y="119" width="3" height="23" fill="#d53344"/>
<rect x="1012" y="135" width="1" height="12" fill="#2cc987"/>
<rect x="1010" y="136" width="5" height="6" fill="#2cc987"/>
<rect x="1011" y="137" width="3" height="4" fill="#26a56f"/>
<rect x="1020" y="135" width="1" height="20" fill="#fb3a4c"/>
<rect x="1018" y="143" width="5" height="4" fill="#fb3a4c"/>
<rect x="1019" y="144" width="3" height="2" fill="#d53344"/>
<rect x="1027" y="142" width="1" height="31" fill="#fb3a4c"/>
<rect x="1025" y="147" width="5" height="16" fill="#fb3a4c"/>
<rect x="1026" y="148" width="3" height="14" fill="#d53344"/>
<rect x="1035" y="147" width="1" height="20" fill="#2cc987"/>
<rect x="1033" y="150" width="5" height="13" fill="#2cc987"/>
<rect x="1034" y="151" width="3" height="11" fill="#26a56f"/>
<rect x="1042" y="149" width="1" height="17" fill="#fb3a4c"/>
<rect x="1040" y="149" width="5" height="17" fill="#fb3a4c"/>
<rect x="1041" y="150" width="3" height="15" fill="#d53344"/>
<rect x="1050" y="162" width="1" height="12" fill="#fb3a4c"/>
<rect x="1048" y="163" width="5" height="5" fill="#fb3a4c"/>
<rect x="1049" y="164" width="3" height="3" fill="#d53344"/>
<rect x="1057" y="162" width="1" height="20" fill="#fb3a4c"/>
<rect x="1055" y="166" width="5" height="8" fill="#fb3a4c"/>
<rect x="1056" y="167" width="3" height="6" fill="#d53344"/>
<rect x="1065" y="164" width="1" height="32" fill="#fb3a4c"/>
<rect x="1063" y="173" width="5" height="7" fill="#fb3a4c"/>
<rect x="1064" y="174" width="3" height="5" fill="#d53344"/>
<rect x="1073" y="140" width="1" height="40" fill="#2cc987"/>
<rect x="1071" y="153" width="5" height="27" fill="#2cc987"/>
<rect x="1072" y="154" width="3" height="25" fill="#26a56f"/>
<rect x="1080" y="115" width="1" height="39" fill="#2cc987"/>
<rect x="1078" y="119" width="5" height="35" fill="#2cc987"/>
<rect x="1079" y="120" width="3" height="33" fill="#26a56f"/>
<rect x="1088" y="118" width="1" height="72" fill="#fb3a4c"/>
<rect x="1086" y="120" width="5" height="66" fill="#fb3a4c"/>
<rect x="1087" y="121" width="3" height="64" fill="#d53344"/>
<rect x="1095" y="136" width="1" height="51" fill="#2cc987"/>
<rect x="1093" y="139" width="5" height="45" fill="#2cc987"/>
<rect x="1094" y="140" width="3" height="43" fill="#26a56f"/>
<rect x="1103" y="139" width="1" height="32" fill="#fb3a4c"/>
<rect x="1101" y="139" width="5" height="32" fill="#fb3a4c"/>
<rect x="1102" y="140" width="3" height="30" fill="#d53344"/>
<rect x="1110" y="158" width="1" height="37" fill="#fb3a4c"/>
<rect x="1108" y="168" width="5" height="3" fill="#fb3a4c"/>
<rect x="1109" y="169" width="3" height="1" fill="#d53344"/>
<rect x="1118" y="161" width="1" height="54" fill="#fb3a4c"/>
<rect x="1116" y="170" width="5" height="38" fill="#fb3a4c"/>
<rect x="1117" y="171" width="3" height="36" fill="#d53344"/>
<rect x="1125" y="172" width="1" height="52" fill="#2cc987"/>
<rect x="1123" y="182" width="5" height="25" fill="#2cc987"/>
<rect x="1124" y="183" width="3" height="23" fill="#26a56f"/>
<rect x="1133" y="169" width="1" height="54" fill="#fb3a4c"/>
<rect x="1131" y="183" width="5" height="12" fill="#fb3a4c"/>
<rect x="1132" y="184" width="3" height="10" fill="#d53344"/>
<rect x="1140" y="170" width="1" height="37" fill="#fb3a4c"/>
<rect x="1138" y="195" width="5" height="4" fill="#fb3a4c"/>
<rect x="1139" y="196" width="3" height="2" fill="#d53344"/>
<rect x="1148" y="191" width="1" height="26" fill="#fb3a4c"/>
<rect x="1146" y="198" width="5" height="12" fill="#fb3a4c"/>
<rect x="1147" y="199" width="3" height="10" fill="#d53344"/>
<rect x="1155" y="192" width="1" height="33" fill="#fb3a4c"/>
<rect x="1153" y="209" width="5" height="10" fill="#fb3a4c"/>
<rect x="1154" y="210" width="3" height="8" fill="#d53344"/>
<rect x="1163" y="199" width="1" height="23" fill="#2cc987"/>
<rect x="1161" y="200" width="5" height="18" fill="#2cc987"/>
<rect x="1162" y="201" width="3" height="16" fill="#26a56f"/>
<rect x="1170" y="174" width="1" height="34" fill="#2cc987"/>
<rect x="1168" y="181" width="5" height="22" fill="#2cc987"/>
<rect x="1169" y="182" width="3" height="20" fill="#26a56f"/>
<rect x="1178" y="202" width="1" height="18" fill="#fb3a4c"/>
<rect x="1176" y="204" width="5" height="16" fill="#fb3a4c"/>
<rect x="1177" y="205" width="3" height="14" fill="#d53344"/>
<rect x="1185" y="218" width="1" height="18" fill="#fb3a4c"/>
<rect x="1183" y="218" width="5" height="9" fill="#fb3a4c"/>
<rect x="1184" y="219" width="3" height="7" fill="#d53344"/>
<rect x="1193" y="213" width="1" height="18" fill="#2cc987"/>
<rect x="1191" y="221" width="5" height="7" fill="#2cc987"/>
<rect x="1192" y="222" width="3" height="5" fill="#26a56f"/>
<rect x="1200" y="200" width="1" height="25" fill="#2cc987"/>
<rect x="1198" y="204" width="5" height="19" fill="#2cc987"/>
<rect x="1199" y="205" width="3" height="17" fill="#26a56f"/>
<rect x="1208" y="195" width="1" height="19" fill="#2cc987"/>
<rect x="1206" y="195" width="5" height="9" fill="#2cc987"/>
<rect x="1207" y="196" width="3" height="7" fill="#26a56f"/>
<rect x="1216" y="175" width="1" height="25" fill="#2cc987"/>
<rect x="1214" y="181" width="5" height="17" fill="#2cc987"/>
<rect x="1215" y="182" width="3" height="15" fill="#26a56f"/>
<rect x="1223" y="160" width="1" height="38" fill="#fb3a4c"/>
<rect x="1221" y="181" width="5" height="6" fill="#fb3a4c"/>
<rect x="1222" y="182" width="3" height="4" fill="#d53344"/>
<rect x="1231" y="175" width="1" height="47" fill="#fb3a4c"/>
<rect x="1229" y="186" width="5" height="36" fill="#fb3a4c"/>
<rect x="1230" y="187" width="3" height="34" fill="#d53344"/>
<rect x="1238" y="204" width="1" height="44" fill="#2cc987"/>
<rect x="1236" y="209" width="5" height="13" fill="#2cc987"/>
<rect x="1237" y="210" width="3" height="11" fill="#26a56f"/>
<rect x="1246" y="185" width="1" height="28" fill="#2cc987"/>
<rect x="1244" y="202" width="5" height="9" fill="#2cc987"/>
<rect x="1245" y="203" width="3" height="7" fill="#26a56f"/>
<rect x="68" y="203" width="1320" height="1" fill="#45525c"/>
<rect x="1385" y="60" width="1" height="4" fill="#ffffff"/><rect x="1385" y="70" width="1" height="4" fill="#ffffff"/><rect x="1385" y="80" width="1" height="4" fill="#ffffff"/><rect x="1385" y="90" width="1" height="4" fill="#ffffff"/><rect x="1385" y="100" width="1" height="4" fill="#ffffff"/><rect x="1385" y="110" width="1" height="4" fill="#ffffff"/><rect x="1385" y="120" width="1" height="4" fill="#ffffff"/><rect x="1385" y="130" width="1" height="4" fill="#ffffff"/><rect x="1385" y="140" width="1" height="4" fill="#ffffff"/><rect x="1385" y="150" width="1" height="4" fill="#ffffff"/><rect x="1385" y="160" width="1" height="4" fill="#ffffff"/><rect x="1385" y="170" width="1" height="4" fill="#ffffff"/><rect x="1385" y="180" width="1" height="4" fill="#ffffff"/><rect x="1385" y="190" width="1" height="4" fill="#ffffff"/><rect x="1385" y="200" width="1" height="4" fill="#ffffff"/><rect x="1385" y="210" width="1" height="4" fill="#ffffff"/><rect x="1385" y="220" width="1" height="4" fill="#ffffff"/><rect x="1385" y="230" width="1" height="4" fill="#ffffff"/><rect x="1385" y="240" width="1" height="4" fill="#ffffff"/><rect x="1385" y="250" width="1" height="4" fill="#ffffff"/><rect x="1385" y="260" width="1" height="4" fill="#ffffff"/><rect x="1385" y="270" width="1" height="4" fill="#ffffff"/><rect x="1385" y="280" width="1" height="4" fill="#ffffff"/><rect x="1385" y="290" width="1" height="4" fill="#ffffff"/><rect x="1385" y="300" width="1" height="4" fill="#ffffff"/><rect x="1385" y="310" width="1" height="4" fill="#ffffff"/><rect x="1385" y="320" width="1" height="4" fill="#ffffff"/><rect x="1385" y="330" width="1" height="4" fill="#ffffff"/><rect x="1385" y="340" width="1" height="4" fill="#ffffff"/><rect x="1385" y="350" width="1" height="4" fill="#ffffff"/><rect x="1385" y="360" width="1" height="4" fill="#ffffff"/><rect x="1385" y="370" width="1" height="4" fill="#ffffff"/><rect x="1385" y="380" width="1" height="4" fill="#ffffff"/><rect x="1385" y="390" width="1" height="4" fill="#ffffff"/><rect x="1385" y="400" width="1" height="4" fill="#ffffff"/><rect x="1385" y="410" width="1" height="4" fill="#ffffff"/><rect x="1385" y="420" width="1" height="4" fill="#ffffff"/><rect x="1385" y="430" width="1" height="4" fill="#ffffff"/><rect x="1385" y="440" width="1" height="4" fill="#ffffff"/><rect x="1385" y="450" width="1" height="4" fill="#ffffff"/><rect x="1385" y="460" width="1" height="4" fill="#ffffff"/><rect x="1385" y="470" width="1" height="4" fill="#ffffff"/><rect x="1385" y="480" width="1" height="4" fill="#ffffff"/><rect x="1385" y="490" width="1" height="4" fill="#ffffff"/><rect x="1385" y="500" width="1" height="4" fill="#ffffff"/><rect x="1385" y="510" width="1" height="4" fill="#ffffff"/><rect x="1385" y="520" width="1" height="4" fill="#ffffff"/><rect x="1385" y="530" width="1" height="4" fill="#ffffff"/><rect x="1385" y="540" width="1" height="4" fill="#ffffff"/><rect x="1385" y="550" width="1" height="4" fill="#ffffff"/><rect x="1385" y="560" width="1" height="4" fill="#ffffff"/><rect x="1385" y="570" width="1" height="4" fill="#ffffff"/><rect x="1385" y="580" width="1" height="4" fill="#ffffff"/>
</svg>

<!-- overlays covering grid (toolbar) -->
<div class="abs" style="left:77px;top:50px;width:148px;height:22px;background:#182126"></div>
<div class="abs" style="left:77px;top:72px;width:417px;height:23px;background:#182126"></div>
<div class="abs" style="left:86px;top:53px;font-size:11.5px;font-weight:bold;color:#e2e5e7">OIL</div>
<div class="abs" style="left:109px;top:56px;font-size:7px;font-weight:bold;color:#7d8b93">CFD</div>
<div class="abs" style="left:132px;top:56px;width:0;height:0;border-left:4px solid transparent;border-right:4px solid transparent;border-top:4.5px solid #d0d4d7"></div>
<svg class="ico" style="left:152px;top:53px" width="12" height="12" viewBox="0 0 12 12"><circle cx="6" cy="6" r="6" fill="#8a8f93"/><rect x="5.2" y="5" width="1.6" height="4.5" fill="#182126"/><rect x="5.2" y="2.6" width="1.6" height="1.5" fill="#182126"/></svg>
<div class="abs" style="left:176px;top:51px;width:44px;height:15px;border:1px solid #10161a;border-radius:2px"></div>
<div class="abs" style="left:181px;top:53px;font-size:10px;color:#d4d8db">H1</div>
<div class="abs" style="left:207px;top:57px;width:0;height:0;border-left:4px solid transparent;border-right:4px solid transparent;border-top:4.5px solid #d0d4d7"></div>

<div class="abs" style="left:86px;top:76px;width:35px;height:16px;background:#f03a4a;border-radius:2px;font-size:10px;color:#fde;text-align:center;line-height:16px">80.12</div>
<div class="abs" style="left:125px;top:76px;width:160px;height:16px;border:1px solid #3b464e;border-radius:2px"></div>
<div class="abs" style="left:141px;top:77px;width:1px;height:14px;background:#3b464e"></div>
<div class="abs" style="left:268px;top:77px;width:1px;height:14px;background:#3b464e"></div>
<div class="abs" style="left:130px;top:83px;width:7px;height:2px;background:#c4c9cc"></div>
<div class="abs" style="left:142px;top:76px;width:99px;font-size:10px;font-weight:bold;color:#eef0f1;text-align:center;line-height:16px">0.01</div>
<svg class="ico" style="left:246px;top:78px" width="11" height="12" viewBox="0 0 11 12"><g fill="none" stroke="#6e777d" stroke-width="1.2"><path d="M1 5.5 v-2 h8 M7 1.5 l2 2 l-2 2"/><path d="M10 6.5 v2 h-8 M4 10.5 l-2-2 l2-2"/></g></svg>
<div class="abs" style="left:273px;top:83px;width:8px;height:2px;background:#e0e3e5"></div>
<div class="abs" style="left:276px;top:80px;width:2px;height:8px;background:#e0e3e5"></div>
<div class="abs" style="left:289px;top:76px;width:35px;height:16px;background:#0db37b;border-radius:2px;font-size:10px;color:#e6fff4;text-align:center;line-height:16px">80.16</div>
<div class="abs" style="left:333px;top:77px;font-size:10px;color:#c8cdd0">SL/TP</div>
<svg class="ico" style="left:370px;top:74px" width="122" height="20" viewBox="370 74 122 20">
  <g fill="none" stroke="#9fadb5" stroke-width="1.1">
    <path d="M374.8 86.1 L378.5 81.6 L382.2 84.1 L386.3 80.4"/>
    <path d="M400.5 76 v12.7 M404.5 78.3 v11.4 M408.5 77.3 v9.5" stroke-width="1"/>
    <path d="M399.3 79.3 h2.4 v6.4 h-2.4z M403.3 80.8 h2.4 v6.4 h-2.4z M407.3 80.2 h2.4 v3.6 h-2.4z" stroke-width="1" fill="#182126"/>
    <circle cx="428.2" cy="81.4" r="4.6"/><path d="M431.6 84.8 l3.6 3.9 M426 81.4 h4.4"/>
    <circle cx="452" cy="81.4" r="4.6"/><path d="M455.4 84.8 l3.6 3.9 M449.8 81.4 h4.4 M452 79.2 v4.4"/>
    <path d="M478.6 77 v12.7 M472 83.4 h13.2 M476.8 78.8 l1.8-1.8 l1.8 1.8 M476.8 87.9 l1.8 1.8 l1.8-1.8 M473.8 81.6 l-1.8 1.8 l1.8 1.8 M483.4 81.6 l1.8 1.8 l-1.8 1.8"/>
  </g>
  <g fill="#b5c1c8"><circle cx="374.8" cy="86.1" r="1"/><circle cx="378.5" cy="81.6" r="0.9"/><circle cx="382.2" cy="84.1" r="0.9"/><circle cx="386.3" cy="80.4" r="1"/></g>
  <path d="M411 92 l3-3 v3z M485 92 l3-3 v3z" fill="#b9c2c7"/>
</svg>

<!-- left chart toolbar -->
<svg class="ico" style="left:33px;top:160px" width="35" height="350" viewBox="33 160 35 350">
  <rect x="41.5" y="175.5" width="12" height="11" fill="none" stroke="#98aab4"/><rect x="43" y="177" width="9" height="8" fill="#7890a0"/>
  <rect x="36" y="202" width="24" height="1" fill="#000"/>
  <text x="40" y="228" font-family="Liberation Sans, sans-serif" font-size="14.5" fill="#a3b1b9">f</text>
  <text x="44.5" y="228" font-family="Liberation Sans, sans-serif" font-size="10" fill="#a3b1b9">(x)</text>
  <g fill="none" stroke="#a3b1b9" stroke-width="1.1">
    <path d="M47.5 243 v11 M42 248.5 h11"/>
    <path d="M43.5 278.5 l8-8"/><circle cx="43.3" cy="278.7" r="1.3"/><circle cx="51.7" cy="270.3" r="1.3"/>
    <rect x="42.5" y="296.5" width="10" height="8"/>
    <path d="M47 324.5 h7 M44 328.5 h10 M44 332.3 h10 M51.2 324.5 l-6.6 7.8"/>
    <path d="M42 356 L53 348.3 M47.5 353.4 L53 351.2 M47.5 355.9 L53 354.4 M47.5 349.8 V356.5"/>
    <path d="M44 376.5 h7 M47.5 376.5 v7"/>
    <path d="M43.3 413 v13 M51.4 415 v10 M47.4 412.4 v14.4" stroke-width="1"/><path d="M42.2 416.5 h2.2 v6.5 h-2.2z M50.3 417.5 h2.2 v4.5 h-2.2z" fill="#182126" stroke-width="1"/>
    <path d="M47.4 440.3 l6.4 3.8 l-6.4 3.8 l-6.4-3.8z M41 446.8 l6.4 3.7 l6.4-3.7 M41 449.3 l6.4 3.7 l6.4-3.7"/>
    <circle cx="43" cy="487" r="1.8"/><circle cx="52" cy="482" r="1.8"/><circle cx="52" cy="492" r="1.8"/>
    <path d="M44.6 486 l5.8-3.2 M44.6 488 l5.8 3.2"/>
  </g>
  <path d="M42.6 327 V322.6 H45.2 M42.6 324.6 H44.8" fill="none" stroke="#a3b1b9" stroke-width="1"/>
  <rect x="36" y="399" width="24" height="1" fill="#000"/>
  <rect x="36" y="466" width="24" height="1" fill="#000"/>
  <path d="M57 194 l3-3 v3z M57 287 l3-3 v3z M57 313 l3-3 v3z M57 339 l3-3 v3z M57 365 l3-3 v3z M57 391 l3-3 v3z M57 458 l3-3 v3z" fill="#b3bdc3"/>
</svg>

<!-- axis labels -->
<div class="pl" style="top:86px">81.37</div><div class="pl" style="top:122px">80.96</div><div class="pl" style="top:158px">80.54</div><div class="pl" style="top:231px">79.71</div><div class="pl" style="top:267px">79.29</div><div class="pl" style="top:303px">78.87</div><div class="pl" style="top:339px">78.46</div><div class="pl" style="top:376px">78.04</div><div class="pl" style="top:412px">77.62</div><div class="pl" style="top:448px">77.21</div><div class="pl" style="top:484px">76.79</div><div class="pl" style="top:521px">76.37</div><div class="pl" style="top:557px">75.96</div><div class="pl" style="top:588px">75.54</div>
<svg class="abs" style="left:1382px;top:195px" width="56" height="17" viewBox="0 0 56 17"><path d="M0 8.5 L8 0 H56 V17 H8Z" fill="#45525c"/></svg>
<div class="pl" style="top:196px;color:#eef0f2">80.12</div>
<div class="abs" style="left:1385px;top:200px;width:1px;height:4px;background:#fff"></div>
<div class="dl" style="left:72px">03.01.2025 21:00</div><div class="dl" style="left:200px">06.01 18:00</div><div class="dl" style="left:328px">07.01 14:00</div><div class="dl" style="left:456px">08.01 10:00</div><div class="dl" style="left:584px">09.01 06:00</div><div class="dl" style="left:712px">10.01 02:00</div><div class="dl" style="left:840px">10.01 19:00</div><div class="dl" style="left:968px">13.01 16:00</div><div class="dl" style="left:1096px">14.01 12:00</div><div class="dl" style="left:1224px">15.01 08:00</div><div class="dl" style="left:1352px">16.01 01:00</div>
<div class="abs" style="left:1328px;top:574px;font-size:14.5px;letter-spacing:0.3px;line-height:16px;white-space:nowrap"><span style="color:#f0930f">33</span><span style="color:#a7afb4">m </span><span style="color:#f0930f">01</span><span style="color:#a7afb4">s</span></div>
<div class="abs" style="left:1285px;top:590px;width:101px;height:11px;background:#fff;border-radius:2px;font-size:8.6px;color:#2e3338;-webkit-text-stroke:0.2px #2e3338;line-height:11px;text-align:center;white-space:nowrap">ROLOWANIE: 22.1.2025</div>

<!-- bottom tabs -->
<div class="abs" style="left:33px;top:630px;width:28px;height:28px;background:#1a2328"></div>
<div class="abs" style="left:43px;top:644px;width:9px;height:1.2px;background:#e4e7e9"></div>
<div class="abs" style="left:46.9px;top:640px;width:1.2px;height:9px;background:#e4e7e9"></div>
<div class="btab" style="left:64.0px"><span class="bt">Orlen (H1)</span><span class="bx">×</span></div><div class="btab" style="left:190.8px"><span class="bt tr">EURUSD (H…</span><span class="bx">×</span></div><div class="btab" style="left:317.6px"><span class="bt tr">GBPUSD (H…</span><span class="bx">×</span></div><div class="btab" style="left:444.4px"><span class="bt">WHEAT (D1)</span><span class="bx">×</span></div><div class="btab" style="left:571.2px"><span class="bt tr">S&amp;P 500 Cn…</span><span class="bx">×</span></div><div class="btab" style="left:698.0px"><span class="bt">COCOA (H1)</span><span class="bx">×</span></div><div class="btab" style="left:824.8px"><span class="bt">US500 (H1)</span><span class="bx">×</span></div><div class="btab" style="left:951.6px"><span class="bt tr">EURPLN (H…</span><span class="bx">×</span></div><div class="btab" style="left:1078.4px"><span class="bt">GOLD (H1)</span><span class="bx">×</span></div><div class="btab" style="left:1205.2px"><span class="bt tr">BITCOIN (H…</span><span class="bx">×</span></div>
<div class="abs" style="left:1332px;top:627px;width:106px;height:31px;background:#182126"></div>
<div class="abs" style="left:1345px;top:633px;font-size:15px;font-weight:bold;color:#eceff1;line-height:17px">OIL (H1)</div>

<!-- bottom -->
<div class="abs" style="left:0;top:666px;width:44px;height:30px;background:#2c3840"></div><div class="abs" style="left:12.5px;top:666px;font-size:13px;color:#e6e9eb;-webkit-text-stroke:0.2px #e6e9eb;line-height:30px;transform:scaleX(0.88);transform-origin:0 0">IKE</div>
<div id="bar" class="abs">
<div class="bc" style="left:13px;width:129px">WOLUMEN</div><div class="bd" style="left:13px"></div><div class="bc" style="left:142px;width:129px">WARTOŚĆ RYNKOWA</div><div class="bd" style="left:142px"></div><div class="bc" style="left:271px;width:81px">SL</div><div class="bd" style="left:271px"></div><div class="bc" style="left:352px;width:81px">TP</div><div class="bd" style="left:352px"></div><div class="bc" style="left:433px;width:130px">CENA OTWARCIA</div><div class="bd" style="left:433px"></div><div class="bc" style="left:563px;width:128px">CENA RYNKOWA</div><div class="bd" style="left:563px"></div><div class="bc" style="left:691px;width:129px">ZYSK BRUTTO</div><div class="bd" style="left:691px"></div><div class="bc" style="left:820px;width:130px">ZYSK NETTO</div><div class="bd" style="left:820px"></div><div class="bc" style="left:950px;width:128px">ZYSK NETTO %</div><div class="bd" style="left:950px"></div><div class="bc" style="left:1078px;width:129px">ROLOWANIE</div><div class="bd" style="left:1078px"></div><div class="bc" style="left:1207px;width:129px">SWAP</div><div class="bd" style="left:1207px"></div><div class="bd" style="left:1336px"></div>
  <div class="abs" style="left:1355px;top:6px;width:81px;height:18.6px;background:#e33638;border-radius:3px"></div>
  <div class="abs" style="left:1363px;top:9px;font-size:10.5px;font-weight:bold;color:#fff;line-height:12px">ZAMKNIJ</div>
  <div class="abs" style="left:1420.5px;top:14px;width:0;height:0;border-left:3.5px solid transparent;border-right:3.5px solid transparent;border-top:4px solid #fff"></div>
</div>
</body>
</html>
